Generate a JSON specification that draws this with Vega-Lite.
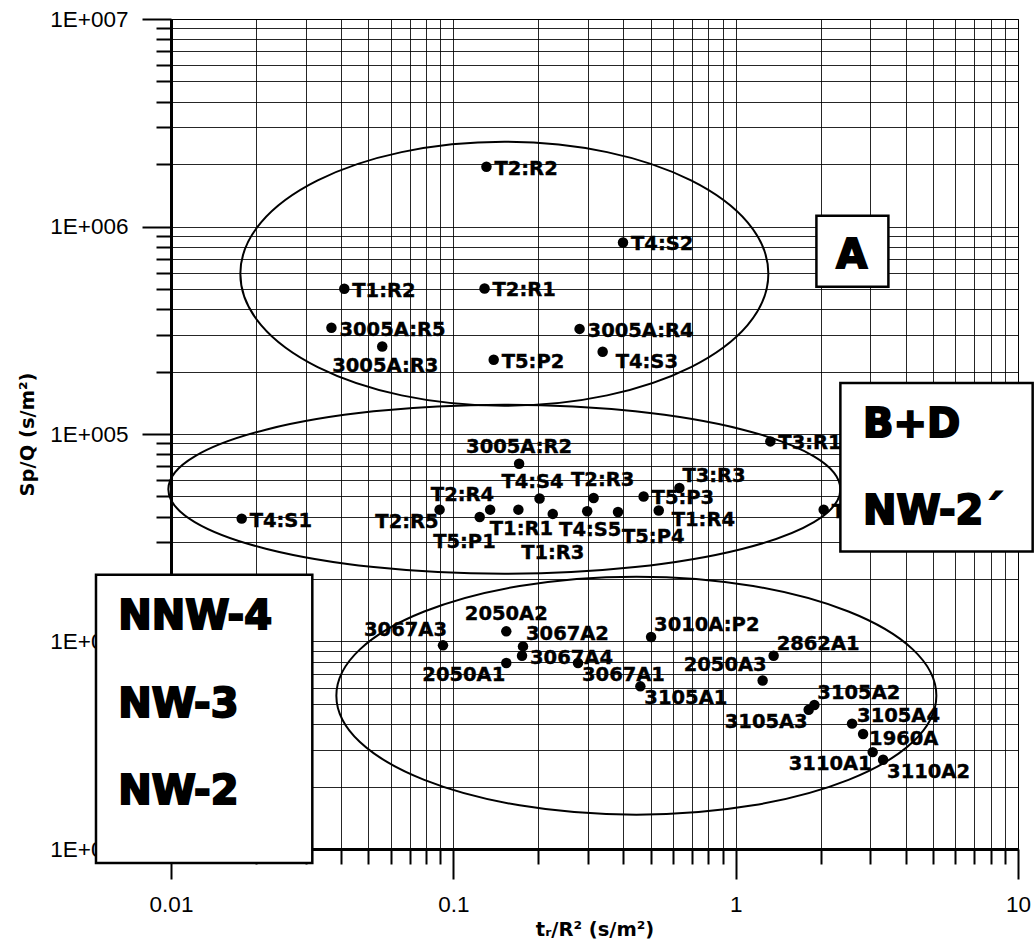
{
  "$schema": "https://vega.github.io/schema/vega-lite/v6.json",
  "width": 847,
  "height": 830,
  "autosize": {"type": "none"},
  "padding": {"left": 171, "top": 19, "right": 18, "bottom": 102},
  "background": "white",
  "config": {
    "view": {"stroke": "#000", "strokeWidth": 1},
    "axis": {
      "grid": true,
      "gridColor": "#000",
      "gridWidth": 1,
      "gridOpacity": 0.85,
      "tickColor": "#000",
      "tickWidth": 2,
      "domainColor": "#000",
      "domainWidth": 3,
      "labelFont": "Liberation Sans",
      "labelFontSize": 22.5,
      "labelColor": "#000",
      "labelPadding": 14,
      "labelFlush": false,
      "labelOverlap": false,
      "labelBound": false,
      "titleFont": "DejaVu Sans",
      "titleFontSize": 19.5,
      "titleFontWeight": "bold",
      "titleColor": "#000"
    },
    "text": {"font": "DejaVu Sans", "fontWeight": "bold", "fontSize": 19.5, "color": "#000", "stroke": "#000", "strokeWidth": 0.4, "baseline": "middle"}
  },
  "datasets": {
    "points": [
      {"label": "T2:R2", "x": 0.131, "y": 1940000, "pos": "r"},
      {"label": "T4:S2", "x": 0.399, "y": 838000, "pos": "r"},
      {"label": "T1:R2", "x": 0.0411, "y": 501000, "pos": "r"},
      {"label": "T2:R1", "x": 0.129, "y": 503000, "pos": "r"},
      {"label": "3005A:R5", "x": 0.037, "y": 325000, "pos": "r"},
      {"label": "3005A:R3", "x": 0.056, "y": 264000, "pos": "b"},
      {"label": "3005A:R4", "x": 0.28, "y": 321000, "pos": "r"},
      {"label": "T5:P2", "x": 0.139, "y": 228000, "pos": "r"},
      {"label": "T4:S3", "x": 0.338, "y": 249000, "pos": "brw"},
      {"label": "T4:S1", "x": 0.0178, "y": 39100, "pos": "r"},
      {"label": "T2:R5", "x": 0.0894, "y": 43200, "pos": "bl"},
      {"label": "T5:P1", "x": 0.124, "y": 39800, "pos": "bl2"},
      {"label": "T2:R4", "x": 0.135, "y": 43200, "pos": "al"},
      {"label": "T1:R1", "x": 0.170, "y": 43200, "pos": "b"},
      {"label": "3005A:R2", "x": 0.171, "y": 71900, "pos": "a"},
      {"label": "T4:S4", "x": 0.202, "y": 48900, "pos": "aw"},
      {"label": "T1:R3", "x": 0.225, "y": 41200, "pos": "b2"},
      {"label": "T4:S5", "x": 0.298, "y": 42400, "pos": "b"},
      {"label": "T2:R3", "x": 0.314, "y": 49200, "pos": "ae"},
      {"label": "T5:P4", "x": 0.383, "y": 42100, "pos": "br2"},
      {"label": "T5:P3", "x": 0.472, "y": 50000, "pos": "r"},
      {"label": "T1:R4", "x": 0.534, "y": 42800, "pos": "brw"},
      {"label": "T3:R3", "x": 0.632, "y": 54900, "pos": "ar"},
      {"label": "T3:R1", "x": 1.327, "y": 92100, "pos": "r"},
      {"label": "T3:R2", "x": 2.05, "y": 43200, "pos": "r"},
      {"label": "3067A3", "x": 0.0919, "y": 9580, "pos": "al"},
      {"label": "2050A2", "x": 0.154, "y": 11190, "pos": "a"},
      {"label": "3067A2", "x": 0.1765, "y": 9470, "pos": "ar"},
      {"label": "3067A4", "x": 0.1751, "y": 8540, "pos": "r"},
      {"label": "2050A1", "x": 0.154, "y": 7880, "pos": "bl"},
      {"label": "3067A1", "x": 0.2764, "y": 7880, "pos": "br"},
      {"label": "3105A1", "x": 0.4597, "y": 6080, "pos": "br"},
      {"label": "3010A:P2", "x": 0.5017, "y": 10510, "pos": "ar"},
      {"label": "2050A3", "x": 1.246, "y": 6490, "pos": "al"},
      {"label": "2862A1", "x": 1.363, "y": 8540, "pos": "ar"},
      {"label": "3105A2", "x": 1.9, "y": 4940, "pos": "ar"},
      {"label": "3105A3", "x": 1.814, "y": 4690, "pos": "bl"},
      {"label": "3105A4", "x": 2.584, "y": 4020, "pos": "ar2"},
      {"label": "1960A", "x": 2.827, "y": 3580, "pos": "r2"},
      {"label": "3110A1", "x": 3.057, "y": 2930, "pos": "bl"},
      {"label": "3110A2", "x": 3.328, "y": 2690, "pos": "br"}
    ],
    "ellipses": [
      {"name": "A", "x": 0.1516, "y": 592000},
      {"name": "BD", "x": 0.1516, "y": 54200},
      {"name": "NW", "x": 0.4449, "y": 5480}
    ],
    "boxes": [
      {"name": "A", "x": 1.932, "x2": 3.475, "y": 1127000, "y2": 513000},
      {"name": "BD", "x": 2.349, "x2": 11.27, "y": 176200, "y2": 27180},
      {"name": "NW", "x": 0.005424, "x2": 0.03166, "y": 20990, "y2": 856}
    ],
    "boxtext": [
      {"text": "A", "x": 2.269, "y": 718000},
      {"text": "B+D", "x": 2.827, "y": 110300},
      {"text": "NW-2´", "x": 2.827, "y": 42200},
      {"text": "NNW-4", "x": 0.006507, "y": 13095},
      {"text": "NW-3", "x": 0.006507, "y": 4932},
      {"text": "NW-2", "x": 0.006507, "y": 1878}
    ]
  },
  "encoding": {
    "x": {
      "field": "x",
      "type": "quantitative",
      "scale": {"type": "log", "domain": [0.01, 10], "nice": false, "zero": false},
      "axis": {
        "title": "tᵣ/R² (s/m²)",
        "titlePadding": 5,
        "values": [0.01, 0.02, 0.03, 0.04, 0.05, 0.06, 0.07, 0.08, 0.09, 0.1, 0.2, 0.3, 0.4, 0.5, 0.6, 0.7, 0.8, 0.9, 1, 2, 3, 4, 5, 6, 7, 8, 9, 10],
        "labelExpr": "datum.value == 0.01 ? '0.01' : datum.value == 0.1 ? '0.1' : datum.value == 1 ? '1' : datum.value == 10 ? '10' : ''",
        "tickSize": {"condition": {"test": "datum.value == 0.01 || datum.value == 0.1 || datum.value == 1 || datum.value == 10", "value": 30}, "value": 15}
      }
    },
    "y": {
      "field": "y",
      "type": "quantitative",
      "scale": {"type": "log", "domain": [1000, 10000000], "nice": false, "zero": false},
      "axis": {
        "title": "Sp/Q (s/m²)",
        "titlePadding": 12,
        "values": [1000, 2000, 3000, 4000, 5000, 6000, 7000, 8000, 9000, 10000, 20000, 30000, 40000, 50000, 60000, 70000, 80000, 90000, 100000, 200000, 300000, 400000, 500000, 600000, 700000, 800000, 900000, 1000000, 2000000, 3000000, 4000000, 5000000, 6000000, 7000000, 8000000, 9000000, 10000000],
        "labelExpr": "datum.value == 1000 ? '1E+003' : datum.value == 10000 ? '1E+004' : datum.value == 100000 ? '1E+005' : datum.value == 1000000 ? '1E+006' : datum.value == 10000000 ? '1E+007' : ''",
        "tickSize": {"condition": {"test": "datum.value == 1000 || datum.value == 10000 || datum.value == 100000 || datum.value == 1000000 || datum.value == 10000000", "value": 29}, "value": 15}
      }
    }
  },
  "layer": [
    {
      "data": {"name": "ellipses"},
      "transform": [{"filter": "datum.name == 'A'"}],
      "mark": {"type": "point", "shape": "M1,0C1,0.2762 0.5523,0.5 0,0.5C-0.5523,0.5 -1,0.2762 -1,0C-1,-0.2762 -0.5523,-0.5 0,-0.5C0.5523,-0.5 1,-0.2762 1,0Z", "size": 278784, "filled": false, "color": "#000", "stroke": "#000", "strokeWidth": 2, "opacity": 1}
    },
    {
      "data": {"name": "ellipses"},
      "transform": [{"filter": "datum.name == 'BD'"}],
      "mark": {"type": "point", "shape": "M1,0C1,0.1389 0.5523,0.2515 0,0.2515C-0.5523,0.2515 -1,0.1389 -1,0C-1,-0.1389 -0.5523,-0.2515 0,-0.2515C0.5523,-0.2515 1,-0.1389 1,0Z", "size": 451584, "filled": false, "color": "#000", "stroke": "#000", "strokeWidth": 2, "opacity": 1}
    },
    {
      "data": {"name": "ellipses"},
      "transform": [{"filter": "datum.name == 'NW'"}],
      "mark": {"type": "point", "shape": "M1,0C1,0.2191 0.5523,0.3967 0,0.3967C-0.5523,0.3967 -1,0.2191 -1,0C-1,-0.2191 -0.5523,-0.3967 0,-0.3967C0.5523,-0.3967 1,-0.2191 1,0Z", "size": 360000, "filled": false, "color": "#000", "stroke": "#000", "strokeWidth": 2, "opacity": 1}
    },
    {
      "data": {"name": "points"},
      "mark": {"type": "circle", "size": 110, "color": "#000", "opacity": 1}
    },
    {
      "data": {"name": "points"},
      "transform": [{"filter": "datum.pos == 'r'"}],
      "mark": {"type": "text", "align": "left", "dx": 8, "dy": 2},
      "encoding": {"text": {"field": "label"}}
    },
    {
      "data": {"name": "points"},
      "transform": [{"filter": "datum.pos == 'r2'"}],
      "mark": {"type": "text", "align": "left", "dx": 6, "dy": 5},
      "encoding": {"text": {"field": "label"}}
    },
    {
      "data": {"name": "points"},
      "transform": [{"filter": "datum.pos == 'a'"}],
      "mark": {"type": "text", "align": "center", "dx": 0, "dy": -17},
      "encoding": {"text": {"field": "label"}}
    },
    {
      "data": {"name": "points"},
      "transform": [{"filter": "datum.pos == 'aw'"}],
      "mark": {"type": "text", "align": "center", "dx": -7, "dy": -16},
      "encoding": {"text": {"field": "label"}}
    },
    {
      "data": {"name": "points"},
      "transform": [{"filter": "datum.pos == 'ae'"}],
      "mark": {"type": "text", "align": "center", "dx": 9, "dy": -18},
      "encoding": {"text": {"field": "label"}}
    },
    {
      "data": {"name": "points"},
      "transform": [{"filter": "datum.pos == 'ar'"}],
      "mark": {"type": "text", "align": "left", "dx": 3, "dy": -12},
      "encoding": {"text": {"field": "label"}}
    },
    {
      "data": {"name": "points"},
      "transform": [{"filter": "datum.pos == 'ar2'"}],
      "mark": {"type": "text", "align": "left", "dx": 5, "dy": -8},
      "encoding": {"text": {"field": "label"}}
    },
    {
      "data": {"name": "points"},
      "transform": [{"filter": "datum.pos == 'b'"}],
      "mark": {"type": "text", "align": "center", "dx": 3, "dy": 19},
      "encoding": {"text": {"field": "label"}}
    },
    {
      "data": {"name": "points"},
      "transform": [{"filter": "datum.pos == 'b2'"}],
      "mark": {"type": "text", "align": "center", "dx": 0, "dy": 39},
      "encoding": {"text": {"field": "label"}}
    },
    {
      "data": {"name": "points"},
      "transform": [{"filter": "datum.pos == 'br'"}],
      "mark": {"type": "text", "align": "left", "dx": 4, "dy": 12},
      "encoding": {"text": {"field": "label"}}
    },
    {
      "data": {"name": "points"},
      "transform": [{"filter": "datum.pos == 'brw'"}],
      "mark": {"type": "text", "align": "left", "dx": 13, "dy": 10},
      "encoding": {"text": {"field": "label"}}
    },
    {
      "data": {"name": "points"},
      "transform": [{"filter": "datum.pos == 'br2'"}],
      "mark": {"type": "text", "align": "left", "dx": 4, "dy": 25},
      "encoding": {"text": {"field": "label"}}
    },
    {
      "data": {"name": "points"},
      "transform": [{"filter": "datum.pos == 'al'"}],
      "mark": {"type": "text", "align": "right", "dx": 4, "dy": -15},
      "encoding": {"text": {"field": "label"}}
    },
    {
      "data": {"name": "points"},
      "transform": [{"filter": "datum.pos == 'bl'"}],
      "mark": {"type": "text", "align": "right", "dx": -1, "dy": 12},
      "encoding": {"text": {"field": "label"}}
    },
    {
      "data": {"name": "points"},
      "transform": [{"filter": "datum.pos == 'bl2'"}],
      "mark": {"type": "text", "align": "right", "dx": 16, "dy": 25},
      "encoding": {"text": {"field": "label"}}
    },
    {
      "data": {"name": "boxes"},
      "mark": {"type": "rect", "fill": "#fff", "stroke": "#000", "strokeWidth": 2.5, "opacity": 1},
      "encoding": {"x2": {"field": "x2"}, "y2": {"field": "y2"}}
    },
    {
      "data": {"name": "boxtext"},
      "mark": {"type": "text", "align": "left", "fontSize": 40, "fill": "#000", "stroke": "#000", "strokeWidth": 2},
      "encoding": {"text": {"field": "text"}}
    }
  ]
}
